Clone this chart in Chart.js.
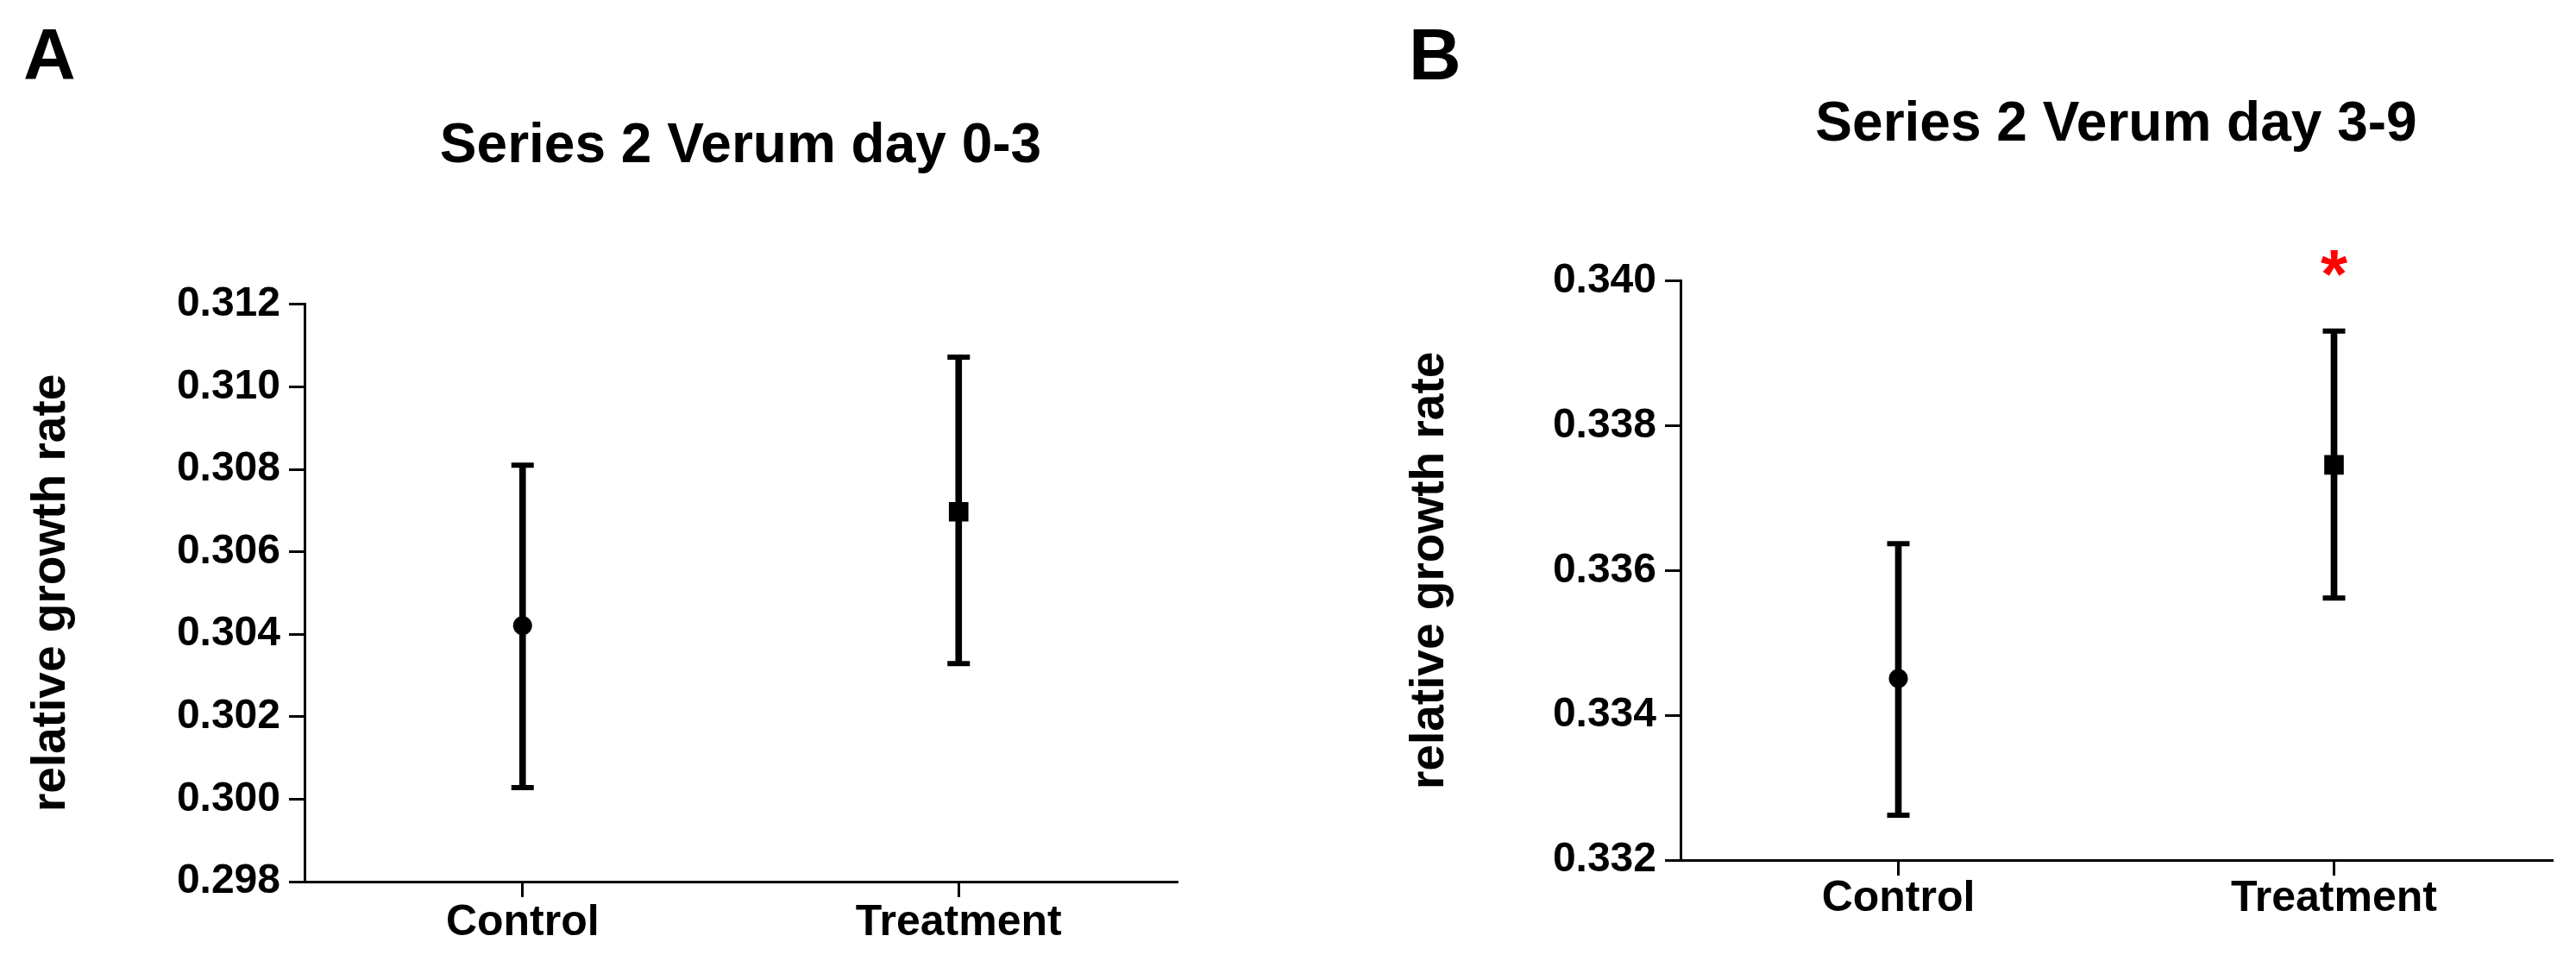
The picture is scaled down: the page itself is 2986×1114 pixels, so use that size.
<!DOCTYPE html>
<html>
<head>
<meta charset="utf-8">
<script src="https://cdn.jsdelivr.net/npm/chart.js@4.4.1/dist/chart.umd.min.js"></script>
<style>
  html, body { margin: 0; padding: 0; background: #ffffff; overflow: hidden; }
  #wrap { position: relative; width: 2986px; height: 1114px; background: #ffffff; }
  canvas { position: absolute; top: 0; }
  #chartA { left: 0; }
  #chartB { left: 1493px; }
</style>
</head>
<body>
<div id="wrap">
  <canvas id="chartA" width="1493" height="1114" style="width:1493px;height:1114px"></canvas>
  <canvas id="chartB" width="1493" height="1114" style="width:1493px;height:1114px"></canvas>
</div>
<script>
// ---------- data ----------
const categories = ['Control', 'Treatment'];

// Panel A: Series 2 Verum day 0-3 (mean, upper and lower end of error bar)
const meanA  = [0.30421, 0.30697];
const upperA = [0.30810, 0.31072];
const lowerA = [0.30028, 0.30329];
const yTicksA = [0.298, 0.300, 0.302, 0.304, 0.306, 0.308, 0.310, 0.312];

// Panel B: Series 2 Verum day 3-9
const meanB  = [0.33451, 0.33746];
const upperB = [0.33637, 0.33931];
const lowerB = [0.33262, 0.33562];
const yTicksB = [0.332, 0.334, 0.336, 0.338, 0.340];
const sigMarksB = ['', '*'];

const titleA = 'Series 2 Verum day 0-3';
const titleB = 'Series 2 Verum day 3-9';
const yAxisTitle = 'relative growth rate';
const markerStyles = ['circle', 'rect'];

// ---------- helpers ----------
const FONT = "'Liberation Sans', Arial, Helvetica, sans-serif";

const panelLetter = {
  id: 'panelLetter',
  afterDraw(chart, args, opts) {
    const ctx = chart.ctx;
    ctx.save();
    ctx.font = 'bold ' + opts.size + 'px ' + FONT;
    ctx.fillStyle = '#000000';
    ctx.textAlign = 'left';
    ctx.textBaseline = 'alphabetic';
    ctx.fillText(opts.text, opts.x, opts.y);
    ctx.restore();
  }
};

const sigMark = {
  id: 'sigMark',
  afterDatasetsDraw(chart, args, opts) {
    if (!opts.marks) return;
    const xs = chart.scales.x, ys = chart.scales.y, ctx = chart.ctx;
    ctx.save();
    ctx.font = 'bold ' + opts.size + 'px ' + FONT;
    ctx.fillStyle = opts.color;
    ctx.textAlign = 'center';
    ctx.textBaseline = 'alphabetic';
    opts.marks.forEach((m, i) => {
      if (!m) return;
      const x = xs.getPixelForValue(i);
      const cy = ys.getPixelForValue(opts.upper[i]) - opts.gap;
      const mt = ctx.measureText(m);
      const base = cy + (mt.actualBoundingBoxAscent - mt.actualBoundingBoxDescent) / 2;
      ctx.fillText(m, x, base);
    });
    ctx.restore();
  }
};

function makeChart(id, p) {
  const capDs = (vals) => ({
    type: 'line', data: vals, showLine: false,
    pointStyle: 'line', pointRadius: 13, pointHoverRadius: 13,
    pointBorderWidth: 6, pointHoverBorderWidth: 6,
    borderColor: '#000000', backgroundColor: '#000000', order: 2
  });
  return new Chart(document.getElementById(id), {
    type: 'bar',
    data: {
      labels: categories,
      datasets: [
        {
          type: 'bar',
          data: p.lower.map((lo, i) => [lo, p.upper[i]]),
          backgroundColor: '#000000', borderWidth: 0, barThickness: 7, order: 3
        },
        capDs(p.upper),
        capDs(p.lower),
        {
          type: 'line', data: p.mean, showLine: false,
          pointStyle: markerStyles, pointRadius: [11, 16], pointHoverRadius: [11, 16],
          pointBorderWidth: 0, borderColor: '#000000', backgroundColor: '#000000', order: 1
        }
      ]
    },
    plugins: [panelLetter, sigMark],
    options: {
      responsive: false,
      animation: false,
      events: [],
      layout: { padding: { left: 0, right: p.padR, top: 0, bottom: 0 } },
      plugins: {
        legend: { display: false },
        tooltip: { enabled: false },
        title: {
          display: true, text: p.title, fullSize: false, color: '#000000',
          font: { family: FONT, size: 64, weight: 'bold', lineHeight: 1.2 },
          padding: { top: p.tTop, bottom: p.tBot }
        },
        panelLetter: { text: p.letter, x: p.letterX, y: 92, size: 84 },
        sigMark: { marks: p.marks || null, upper: p.upper, gap: 79, size: 80, color: '#ff0000' }
      },
      scales: {
        x: {
          type: 'category',
          offset: true,
          grid: { display: true, offset: false, drawOnChartArea: false, drawTicks: true,
                  tickLength: 18, color: '#000000', lineWidth: 3 },
          border: { display: true, color: '#000000', width: 3 },
          ticks: { color: '#000000', padding: p.xPad, maxRotation: 0, autoSkip: false,
                   font: { family: FONT, size: 50, weight: 'bold', lineHeight: 1 } },
          afterFit: (s) => { s.height = p.xH; }
        },
        y: {
          type: 'linear',
          min: p.yTicks[0], max: p.yTicks[p.yTicks.length - 1],
          afterBuildTicks: (s) => { s.ticks = p.yTicks.map(v => ({ value: v })); },
          grid: { display: true, drawOnChartArea: false, drawTicks: true,
                  tickLength: 18, color: '#000000', lineWidth: 3 },
          border: { display: true, color: '#000000', width: 3 },
          ticks: { color: '#000000', padding: 10,
                   font: { family: FONT, size: 48, weight: 'bold', lineHeight: 1.2 },
                   callback: (v) => Number(v).toFixed(3) },
          title: { display: true, text: yAxisTitle, color: '#000000',
                   font: { family: FONT, size: 55, weight: 'bold', lineHeight: 1.2 },
                   padding: { top: p.yTitlePad, bottom: 0 } },
          afterFit: (s) => { s.width = p.yW; }
        }
      }
    }
  });
}

makeChart('chartA', {
  mean: meanA, upper: upperA, lower: lowerA, yTicks: yTicksA,
  title: titleA, letter: 'A', letterX: 27,
  yW: 353, xH: 92, padR: 129, tTop: 132, tBot: 144, yTitlePad: 27, xPad: 5
});
makeChart('chartB', {
  mean: meanB, upper: upperB, lower: lowerB, yTicks: yTicksB, marks: sigMarksB,
  title: titleB, letter: 'B', letterX: 140,
  yW: 455, xH: 117, padR: 28, tTop: 107, tBot: 142, yTitlePad: 132, xPad: 2
});
</script>
</body>
</html>
